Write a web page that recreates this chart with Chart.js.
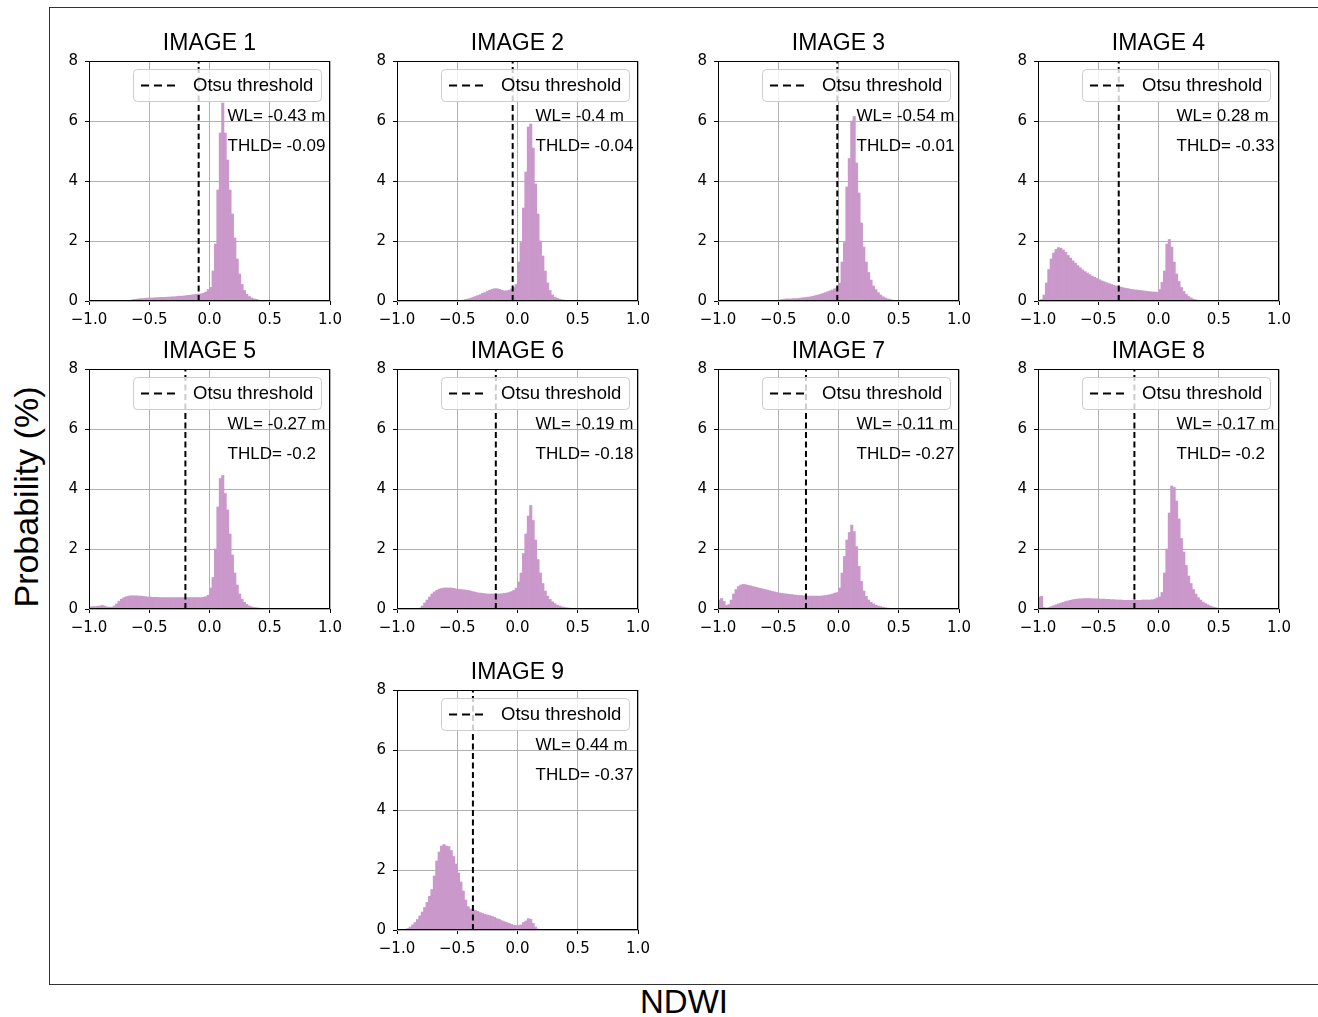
<!DOCTYPE html>
<html>
<head>
<meta charset="utf-8">
<script src="https://cdn.jsdelivr.net/npm/chart.js@4/dist/chart.umd.min.js"></script>
<style>
    body { margin: 0; background: #fff; width: 1318px; height: 1017px; position: relative; overflow: hidden; font-family: "Liberation Sans", Arial, sans-serif; }
    #frame { position: absolute; left: 49px; top: 7px; width: 1400px; height: 976px; border: 1px solid #333; }
    .panel { position: absolute; width: 306px; height: 304px; }
    #ylab { position: absolute; left: 26px; top: 497px; transform: translate(-50%, -50%) rotate(-90deg); font-size: 34px; white-space: nowrap; color: #000; }
    #xlab { position: absolute; left: 684px; top: 1002px; transform: translate(-50%, -50%); font-size: 33px; color: #000; }
</style>
</head>
<body>
<div id="frame"></div>
<div id="ylab">Probability (%)</div>
<div id="xlab">NDWI</div>
<div id="panels"></div>
<script>
    // --- Data ---
    // bin centres of the 100 NDWI bins (-1 .. 1, width 0.02)
    const binCenters = [
        -0.99, -0.97, -0.95, -0.93, -0.91, -0.89, -0.87, -0.85, -0.83, -0.81,
        -0.79, -0.77, -0.75, -0.73, -0.71, -0.69, -0.67, -0.65, -0.63, -0.61,
        -0.59, -0.57, -0.55, -0.53, -0.51, -0.49, -0.47, -0.45, -0.43, -0.41,
        -0.39, -0.37, -0.35, -0.33, -0.31, -0.29, -0.27, -0.25, -0.23, -0.21,
        -0.19, -0.17, -0.15, -0.13, -0.11, -0.09, -0.07, -0.05, -0.03, -0.01,
        0.01, 0.03, 0.05, 0.07, 0.09, 0.11, 0.13, 0.15, 0.17, 0.19,
        0.21, 0.23, 0.25, 0.27, 0.29, 0.31, 0.33, 0.35, 0.37, 0.39,
        0.41, 0.43, 0.45, 0.47, 0.49, 0.51, 0.53, 0.55, 0.57, 0.59,
        0.61, 0.63, 0.65, 0.67, 0.69, 0.71, 0.73, 0.75, 0.77, 0.79,
        0.81, 0.83, 0.85, 0.87, 0.89, 0.91, 0.93, 0.95, 0.97, 0.99
    ];

    const image1 = [
        0, 0, 0, 0, 0, 0, 0, 0, 0, 0,
        0, 0, 0, 0, 0, 0, 0, 0.03, 0.05, 0.06,
        0.07, 0.08, 0.08, 0.09, 0.1, 0.1, 0.1, 0.11, 0.11, 0.12,
        0.12, 0.12, 0.13, 0.13, 0.14, 0.14, 0.15, 0.16, 0.16, 0.17,
        0.18, 0.19, 0.2, 0.21, 0.22, 0.23, 0.24, 0.26, 0.3, 0.38,
        0.45, 1.0, 1.9, 3.7, 5.6, 6.6, 5.6, 4.7, 3.7, 2.9,
        2.1, 1.4, 0.9, 0.55, 0.35, 0.22, 0.15, 0.1, 0.07, 0.05,
        0.03, 0.02, 0, 0, 0, 0, 0, 0, 0, 0,
        0, 0, 0, 0, 0, 0, 0, 0, 0, 0,
        0, 0, 0, 0, 0, 0, 0, 0, 0, 0
    ];
    const image2 = [
        0, 0, 0, 0, 0, 0, 0, 0, 0, 0,
        0, 0, 0, 0, 0, 0, 0, 0, 0, 0,
        0, 0, 0, 0, 0, 0.01, 0.02, 0.03, 0.05, 0.07,
        0.09, 0.12, 0.15, 0.18, 0.21, 0.25, 0.28, 0.32, 0.36, 0.39,
        0.41, 0.41, 0.39, 0.36, 0.34, 0.34, 0.36, 0.4, 0.45, 0.55,
        1.3, 1.95, 3.1, 4.3, 5.8, 5.9, 5.1, 3.9, 2.9, 2.0,
        1.5, 1.0, 0.6, 0.35, 0.2, 0.13, 0.09, 0.06, 0.04, 0.03,
        0.02, 0.01, 0, 0, 0, 0, 0, 0, 0, 0,
        0, 0, 0, 0, 0, 0, 0, 0, 0, 0,
        0, 0, 0, 0, 0, 0, 0, 0, 0, 0
    ];
    const image3 = [
        0, 0, 0, 0, 0, 0, 0, 0, 0, 0,
        0, 0, 0, 0, 0, 0, 0, 0, 0, 0,
        0, 0, 0, 0, 0, 0.03, 0.05, 0.06, 0.07, 0.07,
        0.07, 0.08, 0.08, 0.09, 0.1, 0.11, 0.12, 0.13, 0.14, 0.16,
        0.18, 0.2, 0.22, 0.25, 0.28, 0.31, 0.34, 0.37, 0.41, 0.46,
        0.6, 1.3, 1.95, 3.8, 4.75, 6.0, 6.15, 4.6, 3.6, 2.6,
        1.8, 1.3, 0.95, 0.7, 0.5, 0.38, 0.28, 0.2, 0.14, 0.1,
        0.07, 0.05, 0.03, 0.02, 0.01, 0, 0, 0, 0, 0,
        0, 0, 0, 0, 0, 0, 0, 0, 0, 0,
        0, 0, 0, 0, 0, 0, 0, 0, 0, 0
    ];
    const image4 = [
        0, 0.05, 0.2, 0.6, 1.05, 1.4, 1.6, 1.72, 1.78, 1.76,
        1.7, 1.62, 1.52, 1.43, 1.34, 1.26, 1.18, 1.11, 1.04, 0.98,
        0.93, 0.88, 0.83, 0.79, 0.75, 0.71, 0.67, 0.64, 0.61, 0.58,
        0.55, 0.52, 0.5, 0.48, 0.46, 0.44, 0.42, 0.41, 0.39, 0.38,
        0.37, 0.36, 0.35, 0.34, 0.33, 0.32, 0.31, 0.3, 0.3, 0.29,
        0.38, 0.62, 1.0, 1.9, 2.05, 1.8, 1.3, 0.9, 0.65, 0.45,
        0.32, 0.22, 0.15, 0.1, 0.06, 0.04, 0.02, 0, 0, 0,
        0, 0, 0, 0, 0, 0, 0, 0, 0, 0,
        0, 0, 0, 0, 0, 0, 0, 0, 0, 0,
        0, 0, 0, 0, 0, 0, 0, 0, 0, 0
    ];
    const image5 = [
        0.07, 0.08, 0.08, 0.09, 0.1, 0.12, 0.1, 0.07, 0.06, 0.06,
        0.1, 0.17, 0.26, 0.33, 0.38, 0.41, 0.43, 0.44, 0.44, 0.44,
        0.43, 0.43, 0.42, 0.41, 0.4, 0.4, 0.39, 0.39, 0.39, 0.38,
        0.38, 0.38, 0.38, 0.38, 0.38, 0.38, 0.38, 0.38, 0.38, 0.38,
        0.38, 0.38, 0.38, 0.38, 0.38, 0.38, 0.38, 0.39, 0.41, 0.46,
        0.7, 1.05, 2.0, 3.4, 4.35, 4.45, 3.85, 3.3, 2.5, 1.8,
        1.2, 0.8, 0.5, 0.33, 0.22, 0.15, 0.1, 0.07, 0.05, 0.04,
        0.03, 0.02, 0.01, 0, 0, 0, 0, 0, 0, 0,
        0, 0, 0, 0, 0, 0, 0, 0, 0, 0,
        0, 0, 0, 0, 0, 0, 0, 0, 0, 0
    ];
    const image6 = [
        0, 0, 0, 0, 0, 0, 0, 0, 0, 0.03,
        0.1, 0.2, 0.3, 0.4, 0.5, 0.57, 0.62, 0.66, 0.68, 0.7,
        0.7, 0.7, 0.7, 0.69, 0.67, 0.66, 0.65, 0.64, 0.63, 0.62,
        0.6, 0.58, 0.56, 0.54, 0.53, 0.52, 0.51, 0.5, 0.5, 0.5,
        0.5, 0.5, 0.5, 0.51, 0.52, 0.53, 0.55, 0.58, 0.62, 0.7,
        0.9, 1.2, 1.85, 2.5, 3.1, 3.45, 2.95, 2.3, 1.65, 1.2,
        0.85, 0.6, 0.43, 0.32, 0.24, 0.18, 0.13, 0.1, 0.07, 0.05,
        0.04, 0.03, 0.02, 0.01, 0, 0, 0, 0, 0, 0,
        0, 0, 0, 0, 0, 0, 0, 0, 0, 0,
        0, 0, 0, 0, 0, 0, 0, 0, 0, 0
    ];
    const image7 = [
        0.3, 0.35, 0.25, 0.12, 0.15, 0.3, 0.5, 0.65, 0.75, 0.8,
        0.82, 0.81, 0.79, 0.77, 0.75, 0.73, 0.71, 0.69, 0.67, 0.65,
        0.63, 0.61, 0.59, 0.57, 0.55, 0.53, 0.52, 0.51, 0.5, 0.49,
        0.48, 0.47, 0.46, 0.45, 0.45, 0.44, 0.44, 0.43, 0.43, 0.43,
        0.43, 0.43, 0.43, 0.44, 0.45, 0.46, 0.48, 0.5, 0.53, 0.55,
        0.7, 1.2, 1.75, 2.3, 2.55, 2.8, 2.58, 2.08, 1.42, 0.92,
        0.6, 0.42, 0.3, 0.22, 0.17, 0.13, 0.1, 0.08, 0.06, 0.04,
        0.03, 0.02, 0.01, 0, 0, 0, 0, 0, 0, 0,
        0, 0, 0, 0, 0, 0, 0, 0, 0, 0,
        0, 0, 0, 0, 0, 0, 0, 0, 0, 0
    ];
    const image8 = [
        0.4, 0.42, 0.05, 0.03, 0.05, 0.08, 0.11, 0.14, 0.17, 0.2,
        0.22, 0.25, 0.27, 0.29, 0.31, 0.32, 0.33, 0.34, 0.34, 0.35,
        0.35, 0.35, 0.34, 0.34, 0.34, 0.33, 0.33, 0.33, 0.32, 0.32,
        0.31, 0.31, 0.3, 0.3, 0.3, 0.29, 0.29, 0.29, 0.29, 0.29,
        0.29, 0.29, 0.29, 0.3, 0.3, 0.3, 0.3, 0.31, 0.33, 0.37,
        0.4, 0.55, 1.2, 2.0, 3.2, 4.1, 4.05, 3.6, 3.0, 2.35,
        1.9, 1.45, 1.1, 0.85, 0.65, 0.5, 0.38, 0.3, 0.23, 0.18,
        0.14, 0.1, 0.07, 0.05, 0.03, 0.01, 0, 0, 0, 0,
        0, 0, 0, 0, 0, 0, 0, 0, 0, 0,
        0, 0, 0, 0, 0, 0, 0, 0, 0, 0
    ];
    const image9 = [
        0, 0, 0, 0.02, 0.05, 0.1, 0.17, 0.25, 0.35, 0.47,
        0.6, 0.75, 0.92, 1.12, 1.35, 1.8, 2.3, 2.6, 2.8, 2.85,
        2.8, 2.78, 2.65, 2.45, 2.2, 1.9, 1.6, 1.3, 1.0, 0.78,
        0.7, 0.68, 0.65, 0.62, 0.58, 0.55, 0.52, 0.5, 0.48, 0.45,
        0.42, 0.38, 0.35, 0.31, 0.28, 0.25, 0.22, 0.19, 0.16, 0.15,
        0.15, 0.17, 0.25, 0.3, 0.38, 0.36, 0.22, 0.1, 0.03, 0,
        0, 0, 0, 0, 0, 0, 0, 0, 0, 0,
        0, 0, 0, 0, 0, 0, 0, 0, 0, 0,
        0, 0, 0, 0, 0, 0, 0, 0, 0, 0,
        0, 0, 0, 0, 0, 0, 0, 0, 0, 0
    ];

    const series = [image1, image2, image3, image4, image5, image6, image7, image8, image9];
    const titles = ['IMAGE 1', 'IMAGE 2', 'IMAGE 3', 'IMAGE 4', 'IMAGE 5', 'IMAGE 6', 'IMAGE 7', 'IMAGE 8', 'IMAGE 9'];
    const wlLabels = ['WL= -0.43 m', 'WL= -0.4 m', 'WL= -0.54 m', 'WL= 0.28 m', 'WL= -0.27 m', 'WL= -0.19 m', 'WL= -0.11 m', 'WL= -0.17 m', 'WL= 0.44 m'];
    const thldValues = [-0.09, -0.04, -0.01, -0.33, -0.2, -0.18, -0.27, -0.2, -0.37];
    const xTicks = [-1.0, -0.5, 0.0, 0.5, 1.0];
    const yTicks = [0, 2, 4, 6, 8];

    // --- Layout (plot area top-left corners on the page) ---
    const plotPos = [
        [89, 61], [397, 61], [718, 61], [1038, 61],
        [89, 369], [397, 369], [718, 369], [1038, 369],
        [397, 690]
    ];
    const AXIS_W = 40, TOP_H = 34;
    const BAR_COLOR = '#ca98ca';
    const TICK_FONT = { family: '"DejaVu Sans", sans-serif', size: 15 };
    const TEXT_FAMILY = '"Liberation Sans", Arial, sans-serif';

    function fmtTick(v) {
        const s = Math.abs(v).toFixed(1);
        return v < 0 ? '\u2212' + s : s;
    }

    // title, legend box, annotations and the axes frame
    const panelDecor = {
        id: 'panelDecor',
        afterDraw(chart, args, opts) {
            const { ctx, chartArea: a, scales } = chart;
            const i = opts.index;
            ctx.save();

            ctx.fillStyle = '#000';
            ctx.font = '23px ' + TEXT_FAMILY;
            ctx.textAlign = 'center';
            ctx.textBaseline = 'middle';
            ctx.fillText(titles[i], (a.left + a.right) / 2, a.top - 17);

            ctx.font = '17px ' + TEXT_FAMILY;
            ctx.textAlign = 'left';
            ctx.textBaseline = 'alphabetic';
            const tx = scales.x.getPixelForValue(0.15);
            ctx.fillText(wlLabels[i], tx, scales.y.getPixelForValue(6));
            ctx.fillText('THLD= ' + thldValues[i], tx, scales.y.getPixelForValue(5));

            const lx = a.left + 44, ly = a.top + 8, lw = 188, lh = 32;
            ctx.beginPath();
            ctx.roundRect(lx + 0.5, ly + 0.5, lw, lh, 4);
            ctx.fillStyle = 'rgba(255,255,255,0.8)';
            ctx.fill();
            ctx.strokeStyle = '#cccccc';
            ctx.lineWidth = 1;
            ctx.stroke();

            ctx.beginPath();
            ctx.setLineDash([8, 5]);
            ctx.moveTo(lx + 8, ly + 16.5);
            ctx.lineTo(lx + 42, ly + 16.5);
            ctx.strokeStyle = '#000';
            ctx.lineWidth = 2;
            ctx.stroke();
            ctx.setLineDash([]);

            ctx.fillStyle = '#000';
            ctx.font = '18.5px ' + TEXT_FAMILY;
            ctx.textBaseline = 'middle';
            ctx.fillText('Otsu threshold', lx + 60, ly + 17);

            ctx.strokeStyle = '#000';
            ctx.lineWidth = 1;
            ctx.strokeRect(a.left + 0.5, a.top + 0.5, a.width - 1, a.height - 1);
            ctx.restore();
        }
    };

    function renderPanel(i) {
        const [px, py] = plotPos[i];
        const canvas = document.createElement('canvas');
        canvas.className = 'panel';
        canvas.width = 306;
        canvas.height = 304;
        canvas.style.left = (px - AXIS_W) + 'px';
        canvas.style.top = (py - TOP_H) + 'px';
        document.getElementById('panels').appendChild(canvas);

        const t = thldValues[i];
        return new Chart(canvas.getContext('2d'), {
            type: 'bar',
            data: {
                datasets: [
                    {
                        type: 'line',
                        data: [{ x: t, y: 0 }, { x: t, y: 8 }],
                        borderColor: '#000',
                        borderWidth: 2,
                        borderDash: [6, 3.5],
                        pointRadius: 0,
                        order: 0
                    },
                    {
                        type: 'bar',
                        data: binCenters.map((x, k) => ({ x: x, y: series[i][k] })),
                        backgroundColor: BAR_COLOR,
                        borderWidth: 0,
                        barPercentage: 1,
                        categoryPercentage: 1,
                        order: 1
                    }
                ]
            },
            options: {
                responsive: false,
                animation: false,
                events: [],
                layout: { padding: { left: 0, right: 25, top: TOP_H, bottom: 0 } },
                plugins: {
                    legend: { display: false },
                    tooltip: { enabled: false },
                    title: { display: false },
                    panelDecor: { index: i }
                },
                scales: {
                    x: {
                        type: 'linear',
                        min: -1,
                        max: 1,
                        offset: false,
                        afterBuildTicks: s => { s.ticks = xTicks.map(v => ({ value: v })); },
                        afterFit: s => { s.height = 30; },
                        ticks: { callback: fmtTick, color: '#000', font: TICK_FONT, padding: 6, maxRotation: 0, autoSkip: false },
                        grid: { color: '#b0b0b0', lineWidth: 1, tickColor: '#000', tickLength: 4, offset: false },
                        border: { display: false }
                    },
                    y: {
                        min: 0,
                        max: 8,
                        afterBuildTicks: s => { s.ticks = yTicks.map(v => ({ value: v })); },
                        afterFit: s => { s.width = AXIS_W; },
                        ticks: { color: '#000', font: TICK_FONT, padding: 7 },
                        grid: { color: '#b0b0b0', lineWidth: 1, tickColor: '#000', tickLength: 4 },
                        border: { display: false }
                    }
                }
            },
            plugins: [panelDecor]
        });
    }

    series.forEach((s, i) => renderPanel(i));
</script>
</body>
</html>
